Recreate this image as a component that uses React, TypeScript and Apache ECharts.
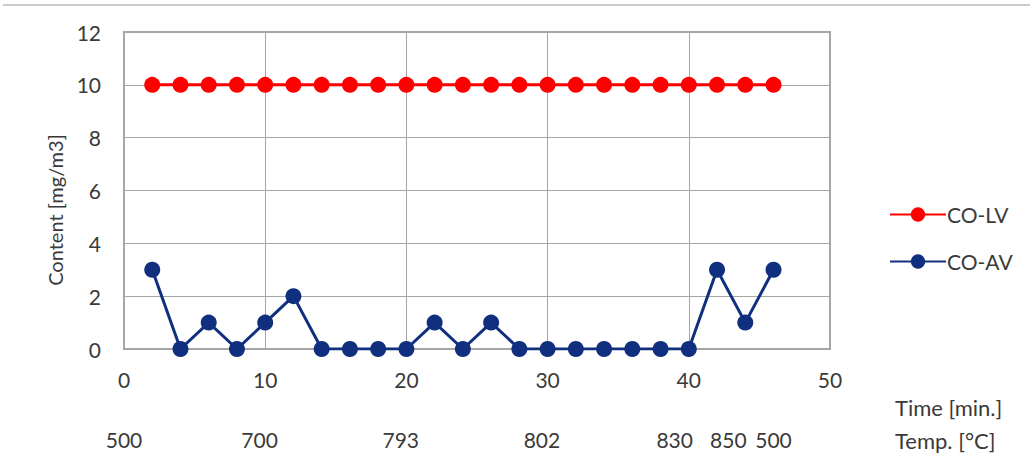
import React, { useEffect, useRef } from "react";
import * as echarts from "echarts";

const times = [2, 4, 6, 8, 10, 12, 14, 16, 18, 20, 22, 24, 26, 28, 30, 32, 34, 36, 38, 40, 42, 44, 46];
const coLV = [10, 10, 10, 10, 10, 10, 10, 10, 10, 10, 10, 10, 10, 10, 10, 10, 10, 10, 10, 10, 10, 10, 10];
const coAV = [3, 0, 1, 0, 1, 2, 0, 0, 0, 0, 1, 0, 1, 0, 0, 0, 0, 0, 0, 0, 3, 1, 3];
const tempPositions = [0, 9.6, 19.6, 29.6, 39, 42.8, 46];
const tempLabels = ["500", "700", "793", "802", "830", "850", "500"];

const FONT = "Lato";
const TEXT = "#3A3A3A";
const GRID = "#A6A6A6";
const FS = 21;

export default function App() {
  const ref = useRef<HTMLDivElement>(null);
  useEffect(() => {
    if (!ref.current) return;
    const chart = echarts.init(ref.current, undefined, { renderer: "svg" });
    chart.setOption({
      animation: false,
      backgroundColor: "#fff",
      textStyle: { fontFamily: FONT },
      grid: { left: 124, right: 200, top: 32, bottom: 115, show: true, borderColor: GRID, borderWidth: 2 },
      legend: {
        orient: "vertical",
        left: 884,
        top: 199,
        itemWidth: 56,
        itemHeight: 18,
        itemGap: 26,
        textStyle: { fontFamily: FONT, fontSize: FS, color: TEXT, padding: [0, 0, 0, -4] },
        data: ["CO-LV", "CO-AV"],
      },
      xAxis: [
        {
          type: "value",
          min: 0,
          max: 50,
          interval: 10,
          axisLine: { show: true, lineStyle: { color: GRID, width: 2 } },
          axisTick: { show: false },
          splitLine: { show: true, lineStyle: { color: GRID, width: 1 } },
          axisLabel: { fontSize: FS, color: TEXT, margin: 20, fontFamily: FONT },
        },
        {
          type: "value",
          min: 0,
          max: 50,
          position: "bottom",
          offset: 60,
          axisLine: { show: false },
          axisTick: { show: false },
          splitLine: { show: false },
          axisLabel: {
            fontSize: FS,
            color: TEXT,
            margin: 20,
            fontFamily: FONT,
            customValues: tempPositions,
            hideOverlap: false,
            formatter: (v: number) => {
              const i = tempPositions.findIndex((p) => Math.abs(p - v) < 1e-6);
              return i >= 0 ? tempLabels[i] : "";
            },
          },
        },
      ],
      yAxis: {
        type: "value",
        min: 0,
        max: 12,
        interval: 2,
        axisLine: { show: true, lineStyle: { color: GRID, width: 2 } },
        axisTick: { show: false },
        splitLine: { show: true, lineStyle: { color: GRID, width: 1 } },
        axisLabel: { fontSize: FS, color: TEXT, margin: 23, fontFamily: FONT },
      },
      graphic: [
        { type: "line", shape: { x1: 3, y1: 5, x2: 1030, y2: 5 }, style: { stroke: "#CCCCCC", lineWidth: 2 } },
        {
          type: "text",
          x: 55,
          y: 210,
          rotation: Math.PI / 2,
          style: { text: "Content [mg/m3]", fontSize: 20, fontFamily: FONT, fill: TEXT, align: "center", verticalAlign: "middle" },
        },
        {
          type: "text",
          x: 895,
          y: 407,
          style: { text: "Time [min.]", fontSize: 22, fontFamily: FONT, fill: TEXT, align: "left", verticalAlign: "middle" },
        },
        {
          type: "text",
          x: 895,
          y: 440,
          style: { text: "Temp. [°C]", fontSize: 22, fontFamily: FONT, fill: TEXT, align: "left", verticalAlign: "middle" },
        },
      ],
      series: [
        {
          name: "CO-LV",
          type: "line",
          xAxisIndex: 0,
          data: times.map((t, i) => [t, coLV[i]]),
          symbol: "circle",
          symbolSize: 16,
          itemStyle: { color: "#FF0000" },
          lineStyle: { color: "#FF0000", width: 3 },
        },
        {
          name: "CO-AV",
          type: "line",
          xAxisIndex: 0,
          data: times.map((t, i) => [t, coAV[i]]),
          symbol: "circle",
          symbolSize: 16,
          itemStyle: { color: "#10307F" },
          lineStyle: { color: "#10307F", width: 3 },
        },
      ],
    });
    return () => chart.dispose();
  }, []);
  return <div ref={ref} style={{ width: 1030, height: 464, position: "absolute", left: 0, top: 0 }} />;
}
